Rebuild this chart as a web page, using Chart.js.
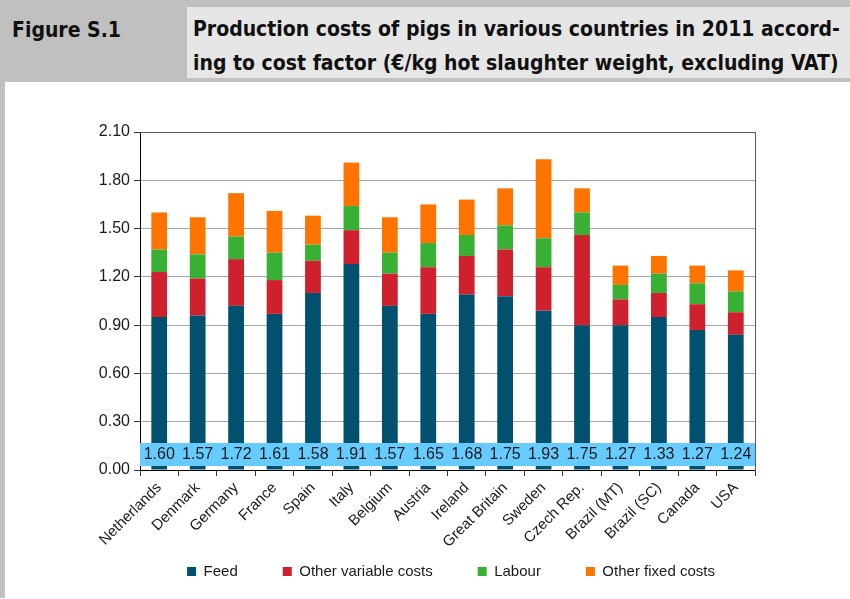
<!DOCTYPE html>
<html>
<head>
<meta charset="utf-8">
<script src="https://cdn.jsdelivr.net/npm/chart.js@4.4.1/dist/chart.umd.min.js"></script>
<style>
  html, body { margin: 0; padding: 0; background: #fff; }
  body { width: 850px; height: 599px; position: relative; overflow: hidden; font-family: "Liberation Sans", Arial, sans-serif; }
  #hdr { position: absolute; left: 0; top: 0; width: 850px; height: 82px; background: #c0c0c0; }
  #fig { position: absolute; left: 12px; top: 13px; font: bold 21px "Liberation Sans Narrow", "DejaVu Sans Condensed", "Liberation Sans", sans-serif; color: #111; line-height: 34px; }
  #ttl { position: absolute; left: 187px; top: 7px; width: 663px; height: 71px; background: #e6e6e6; }
  #ttl div { position: absolute; left: 6px; top: 5px; font: bold 21px "Liberation Sans Narrow", "DejaVu Sans Condensed", "Liberation Sans", sans-serif; color: #111; line-height: 34px; white-space: nowrap; }
  #stripe { position: absolute; left: 0; top: 82px; width: 5px; height: 516px; background: #c0c0c0; }
  #wrap { position: absolute; left: 5px; top: 82px; width: 845px; height: 517px; }
</style>
</head>
<body>
<div id="hdr"></div>
<div id="fig">Figure S.1</div>
<div id="ttl"><div>Production costs of pigs in various countries in 2011 accord-<br>ing to cost factor (€/kg hot slaughter weight, excluding VAT)</div></div>
<div id="stripe"></div>
<div id="wrap"><canvas id="chart"></canvas></div>
<script>
// countries on the x axis
const countries = ["Netherlands", "Denmark", "Germany", "France", "Spain", "Italy", "Belgium", "Austria",
  "Ireland", "Great Britain", "Sweden", "Czech Rep.", "Brazil (MT)", "Brazil (SC)", "Canada", "USA"];

// cost factors, €/kg
const feed        = [0.95, 0.96, 1.02, 0.97, 1.10, 1.28, 1.02, 0.97, 1.09, 1.08, 0.99, 0.90, 0.90, 0.95, 0.87, 0.84];
const otherVar    = [0.28, 0.23, 0.29, 0.21, 0.20, 0.21, 0.20, 0.29, 0.24, 0.29, 0.27, 0.56, 0.16, 0.15, 0.16, 0.14];
const labour      = [0.14, 0.15, 0.14, 0.17, 0.10, 0.15, 0.13, 0.15, 0.13, 0.15, 0.18, 0.14, 0.09, 0.12, 0.13, 0.13];
const otherFixed  = [0.23, 0.23, 0.27, 0.26, 0.18, 0.27, 0.22, 0.24, 0.22, 0.23, 0.49, 0.15, 0.12, 0.11, 0.11, 0.13];

// totals printed in the blue strip
const totals = ["1.60", "1.57", "1.72", "1.61", "1.58", "1.91", "1.57", "1.65", "1.68", "1.75", "1.93", "1.75", "1.27", "1.33", "1.27", "1.24"];

const yTicks = ["0.00", "0.30", "0.60", "0.90", "1.20", "1.50", "1.80", "2.10"];

const FONT = "'Liberation Sans', Arial, sans-serif";
const LEGEND_PAD = 45;

// -------------------------------
// blue strip with totals + top border
// -------------------------------
const totalsStrip = {
  id: "totalsStrip",
  afterDatasetsDraw(chart) {
    const { ctx, chartArea: a, scales: { x } } = chart;
    ctx.save();
    ctx.fillStyle = "#66ccff";
    ctx.fillRect(a.left, a.bottom - 27, a.right - a.left, 23);
    ctx.fillStyle = "#1a1a1a";
    ctx.font = "16px " + FONT;
    ctx.textAlign = "center";
    ctx.textBaseline = "middle";
    totals.forEach((t, i) => {
      ctx.fillText(t, x.getPixelForValue(i), a.bottom - 15);
    });
    ctx.strokeStyle = "#595959";
    ctx.lineWidth = 1;
    ctx.beginPath();
    ctx.moveTo(a.left, a.top + 0.5);
    ctx.lineTo(a.right, a.top + 0.5);
    ctx.stroke();
    ctx.restore();
  }
};

// legend sits a bit into the rotated-label area, like the original
const legendLift = {
  id: "legendLift",
  afterLayout(chart) {
    const lg = chart.legend;
    lg.top -= 31;
    lg.bottom = lg.top + LEGEND_PAD + 25;
  }
};

const config = {
  type: "bar",
  data: {
    labels: countries,
    datasets: [
      { label: "Feed", data: feed, backgroundColor: "#00506e" },
      { label: "Other variable costs", data: otherVar, backgroundColor: "#cf202e" },
      { label: "Labour", data: labour, backgroundColor: "#37b034" },
      { label: "Other fixed costs", data: otherFixed, backgroundColor: "#ff7300" }
    ]
  },
  options: {
    responsive: true,
    maintainAspectRatio: false,
    animation: false,
    layout: { padding: { top: 50, right: 0, left: 47, bottom: 9 } },
    datasets: { bar: { categoryPercentage: 1, barPercentage: 0.41 } },
    plugins: {
      legend: {
        position: "bottom",
        maxHeight: 40,
        labels: { boxWidth: 9, boxHeight: 9, padding: LEGEND_PAD, color: "#1a1a1a", font: { family: FONT, size: 15 } }
      },
      tooltip: { enabled: false }
    },
    scales: {
      x: {
        stacked: true,
        grid: { offset: true, drawOnChartArea: false, tickLength: 6, tickColor: "#333" },
        border: { color: "#000" },
        ticks: { autoSkip: false, minRotation: 45, maxRotation: 45, padding: 3, color: "#1a1a1a", font: { family: FONT, size: 15 } },
        afterFit(s) { s.height = 80; }
      },
      y: {
        stacked: true,
        min: 0,
        max: 2.1,
        ticks: {
          stepSize: 0.3,
          padding: 4,
          color: "#1a1a1a",
          font: { family: FONT, size: 16 },
          callback: (v, i) => yTicks[i]
        },
        grid: { color: "#a6a6a6", tickLength: 6, tickColor: "#333" },
        border: { color: "#000" },
        afterFit(s) { s.width = 88; }
      },
      // empty right axis: gives the plot its right edge
      y2: {
        position: "right",
        display: true,
        min: 0,
        max: 2.1,
        grid: { drawOnChartArea: false, drawTicks: false },
        border: { color: "#595959" },
        ticks: { display: false },
        afterFit(s) { s.width = 95; }
      }
    }
  },
  plugins: [totalsStrip, legendLift]
};

new Chart(document.getElementById("chart"), config);
</script>
</body>
</html>
